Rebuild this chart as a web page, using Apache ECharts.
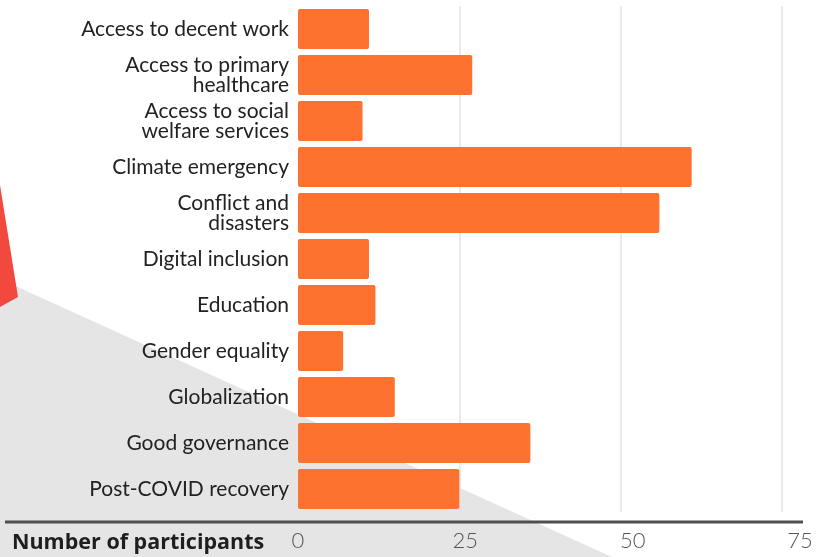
<!DOCTYPE html>
<html>
<head>
<meta charset="utf-8">
<title>Number of participants by topic</title>
<script src="https://cdn.jsdelivr.net/npm/echarts@6/dist/echarts.min.js"></script>
<style>
  html, body { margin: 0; padding: 0; background: #ffffff; }
  #chart { width: 833px; height: 557px; }
</style>
</head>
<body>
<div id="chart"></div>
<script>
// Topics, top to bottom
const topics = [
  'Access to decent work',
  'Access to primary\nhealthcare',
  'Access to social\nwelfare services',
  'Climate emergency',
  'Conflict and\ndisasters',
  'Digital inclusion',
  'Education',
  'Gender equality',
  'Globalization',
  'Good governance',
  'Post-COVID recovery'
];

// Participants per topic
const participants = [11, 27, 10, 61, 56, 11, 12, 7, 15, 36, 25];

// Value axis ticks
const xTicks = [0, 25, 50, 75];
const axisTitle = 'Number of participants';

const chart = echarts.init(document.getElementById('chart'), null, { renderer: 'canvas' });

const labelFont = 'Lato, "Noto Sans", sans-serif';

// tick labels sit slightly right of their gridlines, drifting further out along the axis
const tickRich = {};
xTicks.forEach((t, i) => {
  tickRich['t' + t] = {
    color: '#555555',
    fontFamily: labelFont,
    fontWeight: 300,
    fontSize: 22,
    padding: [0, 0, 0, i * 12]
  };
});

chart.setOption({
  backgroundColor: '#ffffff',
  animation: false,
  grid: { left: 298, right: 51, top: 6, bottom: 45, containLabel: false },
  graphic: [
    // grey wedge behind the lower-left of the chart
    {
      type: 'polygon', z: -10, silent: true,
      shape: { points: [[0, 279], [612, 557], [0, 557]] },
      style: { fill: '#e5e5e5' }
    },
    // red sliver on the left edge
    {
      type: 'polygon', z: -9, silent: true,
      shape: { points: [[0, 185], [18, 297], [0, 307]] },
      style: { fill: '#f2493f' }
    },
    // baseline rule running under the whole chart
    {
      type: 'line', z: 10, silent: true,
      shape: { x1: 5, y1: 522, x2: 803, y2: 522 },
      style: { stroke: '#4f4f4f', lineWidth: 3 }
    },
    {
      type: 'text', z: 10, silent: true,
      left: 12, top: 532,
      style: {
        text: axisTitle,
        font: 'bold 21.5px "Open Sans", ' + labelFont,
        fill: '#1e1e1e'
      }
    }
  ],
  xAxis: {
    type: 'value',
    min: xTicks[0],
    max: xTicks[xTicks.length - 1],
    interval: 25,
    offset: 10,
    axisLine: { show: false },
    axisTick: { show: false },
    axisLabel: {
      margin: 8,
      formatter: v => xTicks.includes(v) ? '{t' + v + '|' + v + '}' : '',
      rich: tickRich
    },
    splitLine: {
      show: true,
      showMinLine: false,
      lineStyle: { color: '#e3e3e3', width: 1.5 }
    }
  },
  yAxis: {
    type: 'category',
    data: topics,
    inverse: true,
    axisLine: { show: false },
    axisTick: { show: false },
    axisLabel: {
      margin: 9,
      color: '#222222',
      fontFamily: labelFont,
      fontSize: 21,
      lineHeight: 20,
      align: 'right'
    }
  },
  series: [{
    type: 'bar',
    data: participants,
    barCategoryGap: '13%',
    itemStyle: { color: '#fe7230', borderRadius: 2 }
  }]
});
</script>
</body>
</html>
